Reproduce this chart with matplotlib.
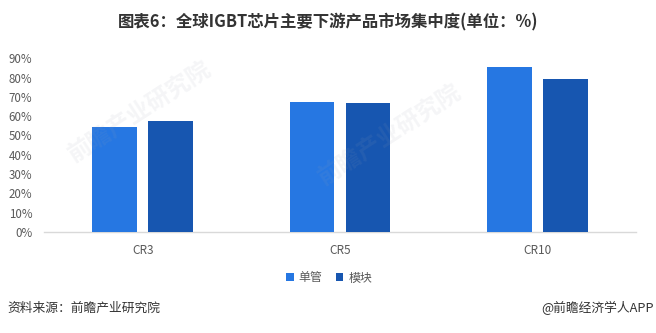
import matplotlib
matplotlib.use("Agg")
import matplotlib.pyplot as plt
import numpy as np

plt.rcParams['font.family'] = ['Noto Sans CJK SC', 'DejaVu Sans']

categories = ["CR3", "CR5", "CR10"]
series_names = ["单管", "模块"]
discrete = [54.4, 67.4, 85.5]
modules = [57.5, 66.8, 79.3]
yticks = [0, 10, 20, 30, 40, 50, 60, 70, 80, 90]
ytick_labels = [f"{v}%" for v in yticks]

title = "图表6：全球IGBT芯片主要下游产品市场集中度(单位：%)"
source = "资料来源：前瞻产业研究院"
credit = "@前瞻经济学人APP"
watermark = "前瞻产业研究院"

c_light = "#2677E2"
c_dark = "#1756B0"
grey = "#595959"

fig = plt.figure(figsize=(6.56, 3.33), dpi=100)
ax = fig.add_axes([44 / 656, 1 - 232 / 333, 592 / 656, (232 - 58.3) / 333])

x = np.arange(len(categories))
w = 0.225
off = 0.142
ax.bar(x - off, discrete, width=w, color=c_light, label=series_names[0], zorder=3)
ax.bar(x + off, modules, width=w, color=c_dark, label=series_names[1], zorder=3)

ax.set_xlim(-0.5, len(categories) - 0.5)
ax.set_ylim(0, 90)
ax.set_yticks(yticks)
ax.set_yticklabels(ytick_labels)
ax.set_xticks(x)
ax.set_xticklabels(categories)

for s in ["top", "right", "left"]:
    ax.spines[s].set_visible(False)
ax.spines["bottom"].set_color("#D9D9D9")
ax.spines["bottom"].set_linewidth(1.0)
ax.tick_params(axis="y", length=0, pad=8.5, labelsize=8.3, labelcolor=grey)
ax.tick_params(axis="x", length=0, pad=8.5, labelsize=8.5, labelcolor=grey)
for lbl in ax.get_yticklabels():
    lbl.set_clip_on(False)

# faint diagonal watermarks
wm_kw = dict(color="#9AA3B0", alpha=0.10, fontsize=17, rotation=33, ha="center",
             va="center", fontweight="bold", zorder=5)
for (wx, wy) in [(140 / 656, 1 - 112 / 333), (390 / 656, 1 - 135 / 333)]:
    fig.text(wx, wy, watermark, **wm_kw)

fig.text(0.5, 1 - 22 / 333, title, ha="center", va="center", fontsize=11.8,
         fontweight="bold", color="#333333")

handles, labels = ax.get_legend_handles_labels()
fig.legend(handles, labels, loc="center", bbox_to_anchor=(329 / 656, 1 - 278 / 333),
           ncol=2, frameon=False, fontsize=8.6, labelcolor=grey,
           handlelength=0.65, handleheight=0.65, handletextpad=0.4, columnspacing=1.1)

fig.text(7 / 656, 1 - 308 / 333, source, ha="left", va="center", fontsize=9.2,
         color="#333333")
fig.text(654 / 656, 1 - 308 / 333, credit, ha="right", va="center", fontsize=9.2,
         color="#333333")

fig.savefig("out.png", dpi=100)
